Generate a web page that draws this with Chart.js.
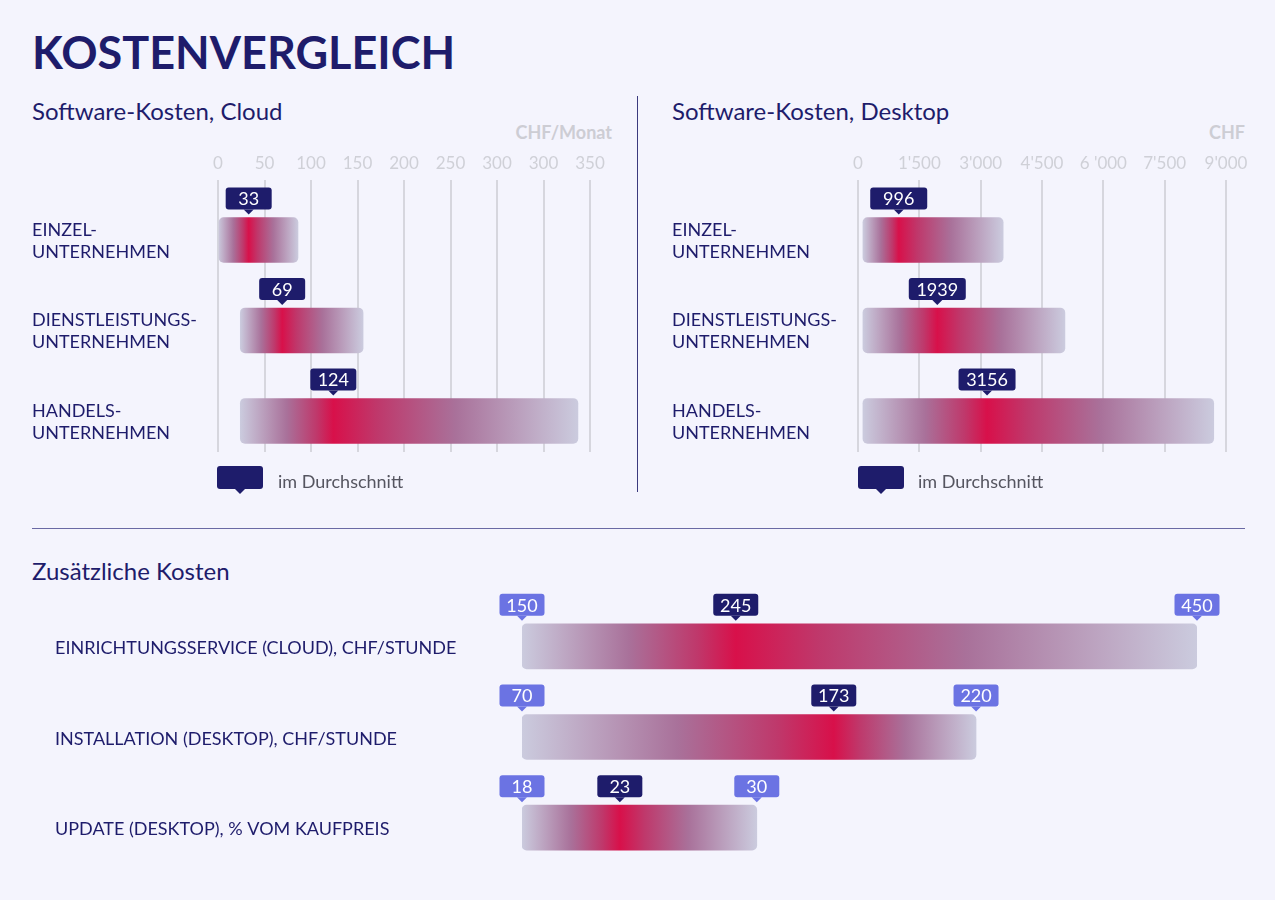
<!DOCTYPE html>
<html lang="de">
<head>
<meta charset="utf-8">
<title>Kostenvergleich</title>
<script src="https://cdn.jsdelivr.net/npm/chart.js@4.4.1/dist/chart.umd.min.js"></script>
<style>
  body { margin: 0; background: #f4f4fd; font-family: Lato, "Open Sans", sans-serif; }
  #page { position: relative; width: 1275px; height: 900px; overflow: hidden; background: #f4f4fd; }
  .txt { position: absolute; line-height: 1; white-space: nowrap; }
  .title { left: 32px; top: 30px; font-size: 45px; font-weight: 700; color: #1e1c6b; }
  .sub { font-size: 24px; color: #1e1c6b; }
  .unit { font-size: 18px; font-weight: 700; color: #cdcdd4; }
  .box { position: absolute; }
  .legend-mark { position: absolute; width: 46px; height: 23px; background: #1e1c6b; border-radius: 3px; }
  .legend-mark::after { content: ""; position: absolute; left: 18px; top: 23px; border-left: 5px solid transparent;
    border-right: 5px solid transparent; border-top: 5px solid #1e1c6b; }
  .legend-txt { font-size: 18px; color: #555560; }
  .vline { position: absolute; left: 637px; top: 96px; width: 1px; height: 396px; background: #3b3a7e; }
  .hline { position: absolute; left: 32px; top: 528px; width: 1213px; height: 1px; background: #6a69a4; }
</style>
</head>
<body>
<div id="page">
  <div class="txt title">KOSTENVERGLEICH</div>

  <div class="txt sub" style="left:32px; top:99px;">Software-Kosten, Cloud</div>
  <div class="txt unit" style="right:663px; top:123px;">CHF/Monat</div>
  <div class="box" style="left:0; top:120px; width:637px; height:380px;"><canvas id="cloudChart"></canvas></div>
  <div class="legend-mark" style="left:217px; top:466px;"></div>
  <div class="txt legend-txt" style="left:278px; top:472px;">im Durchschnitt</div>

  <div class="vline"></div>

  <div class="txt sub" style="left:672px; top:99px;">Software-Kosten, Desktop</div>
  <div class="txt unit" style="right:30px; top:123px;">CHF</div>
  <div class="box" style="left:637px; top:120px; width:638px; height:380px;"><canvas id="desktopChart"></canvas></div>
  <div class="legend-mark" style="left:858px; top:466px;"></div>
  <div class="txt legend-txt" style="left:918px; top:472px;">im Durchschnitt</div>

  <div class="hline"></div>

  <div class="txt sub" style="left:32px; top:559px;">Zusätzliche Kosten</div>
  <div class="box" style="left:0; top:560px; width:1275px; height:340px;"><canvas id="extraChart"></canvas></div>
</div>

<script>
// Software-Kosten, Cloud (CHF/Monat)
const cloudCategories = [["EINZEL-", "UNTERNEHMEN"], ["DIENSTLEISTUNGS-", "UNTERNEHMEN"], ["HANDELS-", "UNTERNEHMEN"]];
const cloudMin = [0, 24, 24];
const cloudMax = [86, 156, 387];
const cloudAvg = [33, 69, 124];
const cloudTicks = ["0", "50", "100", "150", "200", "250", "300", "300", "350"];

// Software-Kosten, Desktop (CHF)
const desktopCategories = [["EINZEL-", "UNTERNEHMEN"], ["DIENSTLEISTUNGS-", "UNTERNEHMEN"], ["HANDELS-", "UNTERNEHMEN"]];
const desktopMin = [120, 120, 120];
const desktopMax = [3550, 5060, 8700];
const desktopAvg = [996, 1939, 3156];
const desktopTicks = ["0", "1'500", "3'000", "4'500", "6 '000", "7'500", "9'000"];

// Zusätzliche Kosten
const extraCategories = ["EINRICHTUNGSSERVICE (CLOUD), CHF/STUNDE", "INSTALLATION (DESKTOP), CHF/STUNDE", "UPDATE (DESKTOP), % VOM KAUFPREIS"];
const extraMin = [150, 70, 18];
const extraMax = [450, 220, 30];
const extraAvg = [245, 173, 23];

const NAVY = "#1e1c6b";
const BLUE = "#6b73e3";
const LAVENDER = "#cacadd";
const GRID = "#d6d6de";
const TICK = "#cfd0d7";

// colour stops by distance from the average (0 = at the average, 1 = bar end)
const fadeStops = [[0, "#d8104a"], [0.18, "#bf386b"], [0.5, "#a9719a"], [1, "#cbcbde"]];

function barFill(avgs) {
    return function (c) {
        if (c.type !== "data") return LAVENDER;
        const range = Array.isArray(c.raw) ? c.raw : (c.raw && c.raw.x);
        const chart = c.chart;
        const meta = chart.getDatasetMeta(c.datasetIndex);
        const xs = chart.scales[meta.xAxisID];
        if (!Array.isArray(range) || !xs || !chart.chartArea) return LAVENDER;
        const x0 = xs.getPixelForValue(range[0]);
        const x1 = xs.getPixelForValue(range[1]);
        const xa = xs.getPixelForValue(avgs[c.dataIndex]);
        const g = chart.ctx.createLinearGradient(x0, 0, x1, 0);
        let p = (xa - x0) / (x1 - x0);
        p = Math.min(Math.max(p, 0.001), 0.999);
        fadeStops.slice().reverse().forEach(s => g.addColorStop(p * (1 - s[0]), s[1]));
        fadeStops.slice(1).forEach(s => g.addColorStop(p + (1 - p) * s[0], s[1]));
        return g;
    };
}

function drawMarker(ctx, x, barTop, text, color, w) {
    const h = 22;
    const bottom = barTop - 8;
    const top = bottom - h;
    ctx.save();
    ctx.fillStyle = color;
    ctx.beginPath();
    ctx.roundRect(x - w / 2, top, w, h, 3);
    ctx.fill();
    ctx.beginPath();
    ctx.moveTo(x - 5, bottom);
    ctx.lineTo(x + 5, bottom);
    ctx.lineTo(x, bottom + 5);
    ctx.closePath();
    ctx.fill();
    ctx.fillStyle = "#ffffff";
    ctx.font = "18px Lato";
    ctx.textAlign = "center";
    ctx.textBaseline = "middle";
    ctx.fillText(text, x, top + h / 2 + 1);
    ctx.restore();
}

const markerPlugin = {
    id: "markers",
    afterDatasetsDraw(chart) {
        chart.data.datasets.forEach((ds, di) => {
            const meta = chart.getDatasetMeta(di);
            const xs = chart.scales[meta.xAxisID];
            meta.data.forEach((bar, i) => {
                if (ds.data[i] == null) return;
                const barTop = bar.y - bar.height / 2;
                (ds.markers || []).forEach(m => {
                    const v = m.values[i];
                    if (v == null) return;
                    drawMarker(chart.ctx, xs.getPixelForValue(v), barTop, String(v), m.color, m.width);
                });
            });
        });
    }
};

const labelFont = { family: "Lato", size: 18, lineHeight: 1.22 };
const tickFont = { family: "Lato", size: 17 };

function topChart(id, cats, mins, maxs, avgs, ticks, xMax, step, padLeft, padRight, boxW) {
    return new Chart(document.getElementById(id), {
        type: "bar",
        data: {
            datasets: [{
                data: cats.map((_, i) => ({ x: [mins[i], maxs[i]], y: i })),
                backgroundColor: barFill(avgs),
                borderRadius: 5,
                borderSkipped: false,
                barThickness: 45,
                markers: [{ values: avgs, color: NAVY, width: boxW }]
            }]
        },
        options: {
            indexAxis: "y",
            responsive: true,
            maintainAspectRatio: false,
            animation: false,
            events: [],
            layout: { padding: { left: padLeft, right: padRight, top: 0, bottom: 48 } },
            plugins: { legend: { display: false }, tooltip: { enabled: false } },
            scales: {
                x: {
                    type: "linear",
                    position: "top",
                    min: 0,
                    max: xMax,
                    ticks: {
                        stepSize: step,
                        autoSkip: false,
                        maxRotation: 0,
                        color: TICK,
                        font: tickFont,
                        padding: 6,
                        callback: (v, i) => ticks[i]
                    },
                    grid: { color: GRID, lineWidth: 2, drawTicks: false },
                    border: { display: false },
                    afterFit: s => { s.height = 60; }
                },
                y: {
                    type: "linear",
                    offset: false,
                    reverse: true,
                    min: -0.663,
                    max: 2.343,
                    afterBuildTicks: s => { s.ticks = cats.map((_, i) => ({ value: i })); },
                    ticks: {
                        crossAlign: "far",
                        color: NAVY,
                        font: labelFont,
                        labelOffset: 1,
                        callback: v => cats[v]
                    },
                    grid: { display: false },
                    border: { display: false },
                    afterFit: s => { s.width = 186; }
                }
            }
        },
        plugins: [markerPlugin]
    });
}

topChart("cloudChart", cloudCategories, cloudMin, cloudMax, cloudAvg, cloudTicks, 400, 50, 32, 47, 46);
topChart("desktopChart", desktopCategories, desktopMin, desktopMax, desktopAvg, desktopTicks, 9000, 1500, 35, 49, 57);

// bottom panel: each row has its own hidden value axis
const extraAxes = [{ min: 150, max: 450 }, { min: 70, max: 293 }, { min: 18, max: 52.5 }];
const onlyRow = (arr, i) => extraCategories.map((_, j) => (j === i ? arr[i] : null));

const extraScales = {
    y: {
        type: "category",
        ticks: { crossAlign: "far", color: NAVY, font: labelFont, labelOffset: 2 },
        grid: { display: false },
        border: { display: false },
        afterFit: s => { s.width = 467; }
    }
};
extraAxes.forEach((a, i) => {
    extraScales["x" + i] = { type: "linear", display: false, min: a.min, max: a.max };
});

new Chart(document.getElementById("extraChart"), {
    type: "bar",
    data: {
        labels: extraCategories,
        datasets: extraCategories.map((_, i) => ({
            xAxisID: "x" + i,
            data: extraCategories.map((_, j) => (j === i ? [extraMin[i], extraMax[i]] : null)),
            backgroundColor: barFill(extraAvg),
            borderRadius: 5,
            borderSkipped: false,
            barThickness: 45,
            grouped: false,
            markers: [
                { values: onlyRow(extraMin, i), color: BLUE, width: 45 },
                { values: onlyRow(extraAvg, i), color: NAVY, width: 45 },
                { values: onlyRow(extraMax, i), color: BLUE, width: 45 }
            ]
        }))
    },
    options: {
        indexAxis: "y",
        responsive: true,
        maintainAspectRatio: false,
        animation: false,
        events: [],
        layout: { padding: { left: 55, right: 78, top: 41, bottom: 27 } },
        plugins: { legend: { display: false }, tooltip: { enabled: false } },
        scales: extraScales
    },
    plugins: [markerPlugin]
});
</script>
</body>
</html>
